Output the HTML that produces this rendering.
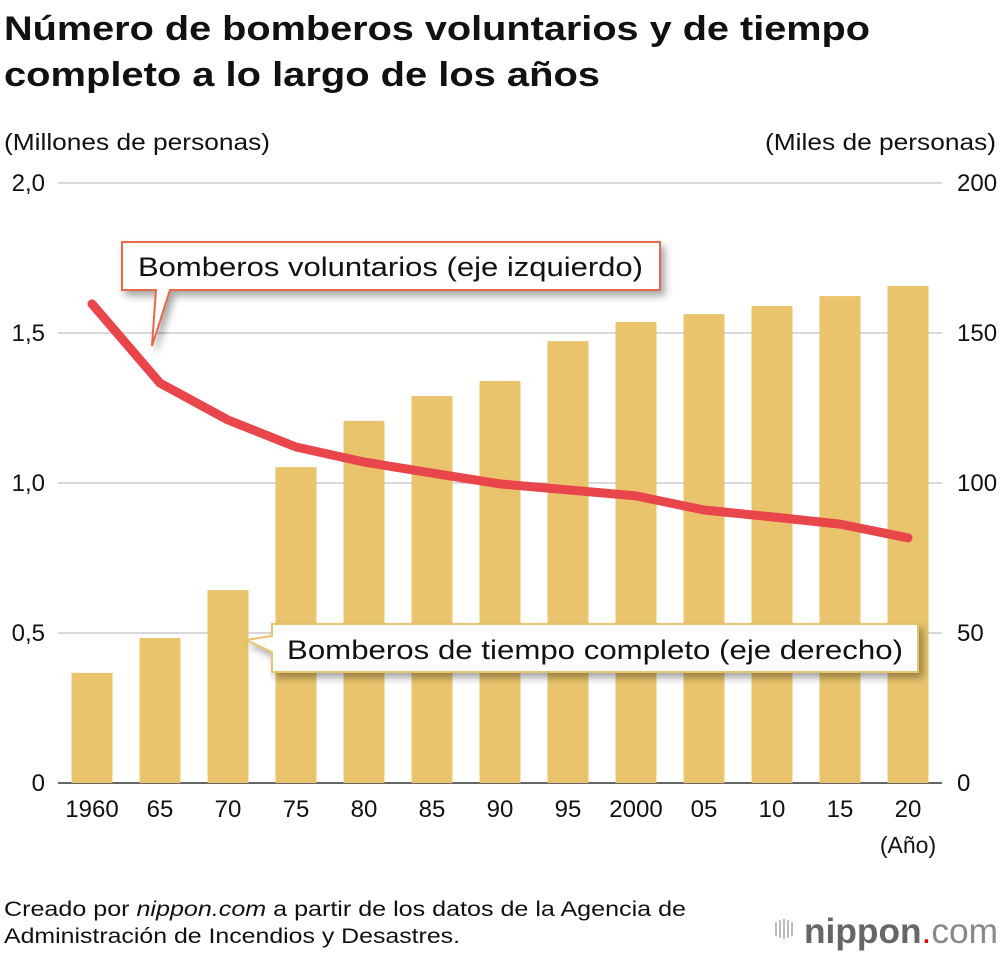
<!DOCTYPE html>
<html><head><meta charset="utf-8"><style>
body{margin:0;background:#fff;font-family:"Liberation Sans",sans-serif;}
</style></head><body>
<svg width="1000" height="954" viewBox="0 0 1000 954" xmlns="http://www.w3.org/2000/svg" font-family="Liberation Sans, sans-serif">
<defs><filter id="sh" x="-10%" y="-30%" width="130%" height="180%"><feDropShadow dx="4" dy="5" stdDeviation="4" flood-color="#000" flood-opacity="0.35"/></filter></defs>
<text x="4" y="40" font-size="34" font-weight="bold" fill="#111" textLength="866" lengthAdjust="spacingAndGlyphs">Número de bomberos voluntarios y de tiempo</text>
<text x="4" y="86" font-size="34" font-weight="bold" fill="#111" textLength="596" lengthAdjust="spacingAndGlyphs">completo a lo largo de los años</text>
<text x="4" y="150" font-size="23" fill="#111" textLength="266" lengthAdjust="spacingAndGlyphs">(Millones de personas)</text>
<text x="765" y="150" font-size="23" fill="#111" textLength="231" lengthAdjust="spacingAndGlyphs">(Miles de personas)</text>
<g id="grid"></g><g id="bars"></g><g id="line"></g><g id="ticks"></g>
<g filter="url(#sh)">
<path d="M122,242 H660 V290 H170 L152,346 L156,290 H122 Z" fill="#fff" stroke="#e8674a" stroke-width="2"/>
</g>
<text x="138" y="276" font-size="27" fill="#111" textLength="505" lengthAdjust="spacingAndGlyphs">Bomberos voluntarios (eje izquierdo)</text>
<g filter="url(#sh)">
<path d="M272,624 H918 V672 H272 V652 L246,640 L272,636 Z" fill="#fff" stroke="#e8c46a" stroke-width="2"/>
</g>
<text x="287" y="659" font-size="27" fill="#111" textLength="616" lengthAdjust="spacingAndGlyphs">Bomberos de tiempo completo (eje derecho)</text>
<text x="908" y="853" font-size="23" fill="#111" text-anchor="middle">(Año)</text>
<text x="4" y="916" font-size="21" fill="#111" textLength="682" lengthAdjust="spacingAndGlyphs">Creado por <tspan font-style="italic">nippon.com</tspan> a partir de los datos de la Agencia de</text>
<text x="4" y="943" font-size="21" fill="#111" textLength="456" lengthAdjust="spacingAndGlyphs">Administración de Incendios y Desastres.</text>
<g>
<rect x="775" y="922" width="2" height="14" fill="#bbb"/><rect x="779" y="920" width="2" height="18" fill="#bbb"/><rect x="783" y="919" width="2" height="20" fill="#bbb"/><rect x="787" y="920" width="2" height="18" fill="#bbb"/><rect x="791" y="922" width="2" height="14" fill="#bbb"/>
<text x="804" y="943" font-size="35" fill="#666" textLength="194" lengthAdjust="spacingAndGlyphs"><tspan font-weight="bold">nippon</tspan><tspan fill="#e00">.</tspan><tspan fill="#888">com</tspan></text>
</g>
</svg>
<script>
const years=["1960","65","70","75","80","85","90","95","2000","05","10","15","20"];
const fullTime=[36.7,48.3,64.3,105.3,120.7,129,134,147.3,153.7,156.3,159,162.3,165.7];
const volunteers=[1.597,1.333,1.21,1.12,1.07,1.033,0.997,0.977,0.957,0.91,0.887,0.863,0.817];
const leftTicks=["0","0,5","1,0","1,5","2,0"];
const leftVals=[0,0.5,1,1.5,2];
const rightTicks=["0","50","100","150","200"];
const NS="http://www.w3.org/2000/svg";
const yL=v=>783-v*300, yR=v=>783-v*3, x=i=>92+i*68;
function mk(t,a,p){const e=document.createElementNS(NS,t);for(const k in a)e.setAttribute(k,a[k]);p.appendChild(e);return e;}
const g=document.getElementById('grid'),b=document.getElementById('bars'),l=document.getElementById('line'),t=document.getElementById('ticks');
leftVals.forEach((v,i)=>{
 const ln=mk('line',{x1:58,x2:942,y1:yL(v),y2:yL(v),stroke:v===0?'#333':'#ccc','stroke-width':1.5},g);
 
 
 const a=mk('text',{x:45,y:yL(v)+8,'font-size':24,'text-anchor':'end',fill:'#111'},t);a.textContent=leftTicks[i];
 
 
 const r=mk('text',{x:957,y:yL(v)+8,'font-size':24,fill:'#111'},t);r.textContent=rightTicks[i];
 
 
});
fullTime.forEach((v,i)=>{
 const r=mk('rect',{x:x(i)-20.5,y:yR(v),width:41,height:783-yR(v),fill:'#e9c46c'},b);
 
 
 const tx=mk('text',{x:x(i),y:817,'font-size':24,'text-anchor':'middle',fill:'#111'},t);tx.textContent=years[i];
 
 
});
const p=mk('polyline',{points:volunteers.map((v,i)=>x(i)+','+yL(v)).join(' '),fill:'none',stroke:'#e8464b','stroke-width':9,'stroke-linecap':'round','stroke-linejoin':'round'},l);


</script>
</body></html>
